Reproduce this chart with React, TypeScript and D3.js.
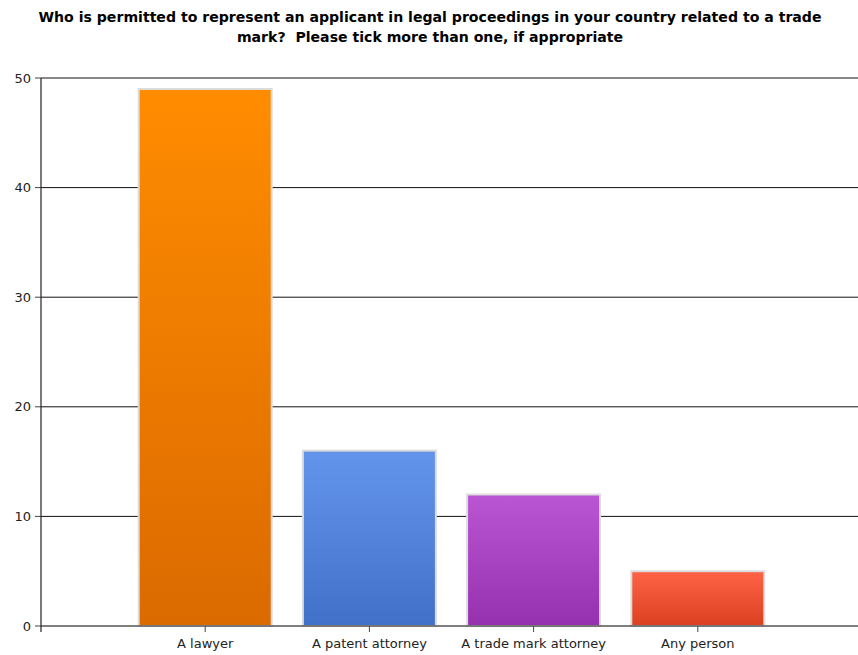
import React from "react";
import * as d3 from "d3";

const titleLines = [
  "Who is permitted to represent an applicant in legal proceedings in your country related to a trade",
  "mark?  Please tick more than one, if appropriate",
];
const categories = ["A lawyer", "A patent attorney", "A trade mark attorney", "Any person"];
const values = [49, 16, 12, 5];
const yTicks = [0, 10, 20, 30, 40, 50];
const topColors = ["#FF8C00", "#6495ED", "#BA55D3", "#FF6347"];
const bottomColors = ["#DB6A00", "#4170C8", "#9530AE", "#DB4020"];

export default function App() {
  const W = 858, H = 655;
  const left = 41, right = 862, top = 78, bottom = 626;
  const x = d3.scaleLinear().domain([0, categories.length + 1]).range([left, right]);
  const y = d3.scaleLinear().domain([0, 50]).range([bottom, top]);
  const step = x(1) - x(0);
  const bw = step * 0.81;
  return (
    <svg width={W} height={H} style={{ position: "absolute", left: 0, top: 0, background: "#fff" }}
      fontFamily="'DejaVu Sans', Verdana, sans-serif">
      <defs>
        {categories.map((c, i) => (
          <linearGradient key={c} id={`g${i}`} x1="0" y1="0" x2="0" y2="1">
            <stop offset="0" stopColor={topColors[i]} />
            <stop offset="1" stopColor={bottomColors[i]} />
          </linearGradient>
        ))}
      </defs>
      {titleLines.map((t, i) => (
        <text key={i} x={430} y={22 + i * 20} textAnchor="middle" fontWeight="bold" fontSize={14.1}
          fill="#000" style={{ whiteSpace: "pre" }}>
          {t}
        </text>
      ))}
      {yTicks.map((t) => (
        <g key={t}>
          {t > 0 && <line x1={left} x2={W} y1={y(t)} y2={y(t)} stroke="#111" strokeWidth={1} />}
          <line x1={left - 6} x2={left} y1={y(t)} y2={y(t)} stroke="#444" />
          <text x={left - 10} y={y(t) + 4.5} textAnchor="end" fontSize={13} fill="#222">{t}</text>
        </g>
      ))}
      {categories.map((c, i) => {
        const cx = x(i + 1);
        return (
          <g key={c}>
            <rect x={cx - bw / 2} y={y(values[i])} width={bw} height={bottom - y(values[i])}
              fill={`url(#g${i})`} stroke="#DCDCDC" strokeWidth={2} />
            <line x1={cx} x2={cx} y1={bottom} y2={bottom + 6} stroke="#444" />
            <text x={cx} y={bottom + 22} textAnchor="middle" fontSize={13} fill="#222">{c}</text>
          </g>
        );
      })}
      <line x1={left} x2={W} y1={bottom} y2={bottom} stroke="#555" strokeWidth={1.5} />
      <line x1={left} x2={left} y1={top} y2={bottom + 6} stroke="#222" strokeWidth={1.2} />
    </svg>
  );
}
